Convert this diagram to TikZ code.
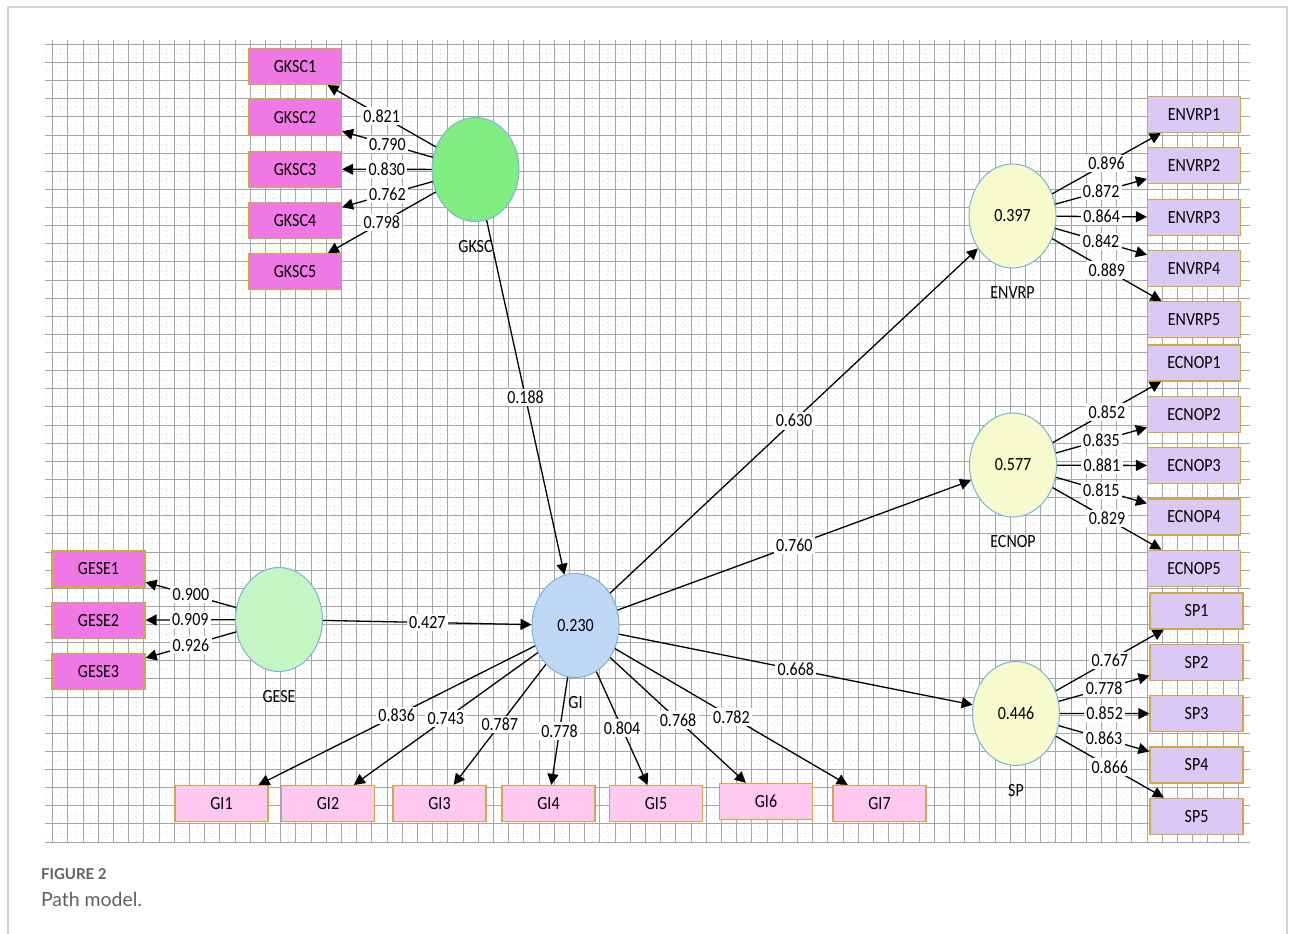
\documentclass[tikz,border=0pt]{standalone}
\usepackage{fontspec}
\setmainfont[FakeStretch=0.86]{Carlito}
\newfontfamily\capfont{Lato}
\usetikzlibrary{arrows.meta,positioning,shapes.geometric}

\definecolor{lvgreen}{RGB}{128,238,128}
\definecolor{lvpale}{RGB}{196,246,196}
\definecolor{lvblue}{RGB}{190,215,245}
\definecolor{lvyellow}{RGB}{246,250,204}
\definecolor{lvborder}{RGB}{120,180,215}
\definecolor{indmag}{RGB}{240,120,228}
\definecolor{indpink}{RGB}{255,200,240}
\definecolor{indlav}{RGB}{218,200,245}
\definecolor{indborder}{RGB}{205,170,70}
\definecolor{capgray}{RGB}{95,95,95}

\begin{document}
\begin{tikzpicture}[x=0.5pt,y=-0.5pt,>={Triangle[length=5.5pt,width=5.5pt]},
	node distance=25.65pt,
	every node/.style={font=\fontsize{9.3}{10}\selectfont},
	lv/.style={ellipse,draw=lvborder,line width=0.5pt,minimum width=43.5pt,minimum height=52pt,inner sep=0pt},
	lvname/.style={inner sep=0pt},
	ind/.style={rectangle,draw=indborder,line width=0.6pt,minimum width=46.5pt,minimum height=18pt,inner sep=0pt},
	lbl/.style={fill=white,inner sep=1.2pt},
	gridline/.style={gray!70,line width=0.45pt},
	minorline/.style={gray!25,line width=0.4pt,dotted}]
	\useasboundingbox (0,0) rectangle (1293,933);
	\draw[gray!35,line width=0.9pt] (8,7) rectangle (1287,960);

	% grid
	\foreach \i in {0,...,77}
		\draw[minorline] ({60.3+15.2*\i},44) -- ({60.3+15.2*\i},842);
	\foreach \j in {0,...,43}
		\draw[minorline] (46,{53.4+18.13*\j}) -- (1250,{53.4+18.13*\j});
	\foreach \i in {0,...,78}
		\draw[gridline] ({52.7+15.2*\i},40) -- ({52.7+15.2*\i},843);
	\foreach \j in {0,...,44}
		\draw[gridline] (45,{44.3+18.13*\j}) -- (1250,{44.3+18.13*\j});

	% latent variables
	\node[lv,fill=lvgreen] (GKSC) at (475.5,169.5) {};
	\node[lvname,below=9pt of GKSC] (GKSCt) {GKSC};
	\node[lv,fill=lvpale] (GESE) at (279,619.5) {};
	\node[lvname,below=9pt of GESE] (GESEt) {GESE};
	\node[lv,fill=lvblue] (GI) at (575.5,625.5) {0.230};
	\node[lvname,below=9pt of GI] (GIt) {GI};
	\node[lv,fill=lvyellow] (ENVRP) at (1012.5,216) {0.397};
	\node[lvname,below=9pt of ENVRP] (ENVRPt) {ENVRP};
	\node[lv,fill=lvyellow] (ECNOP) at (1013,465) {0.577};
	\node[lvname,below=9pt of ECNOP] (ECNOPt) {ECNOP};
	\node[lv,fill=lvyellow] (SP) at (1016,713.5) {0.446};
	\node[lvname,below=9pt of SP] (SPt) {SP};

	% indicators
	\node[ind,fill=indmag] (GKSC1) at (295,66.5) {GKSC1};
	\node[ind,fill=indmag] (GKSC2) [below of=GKSC1] {GKSC2};
	\node[ind,fill=indmag] (GKSC3) [below of=GKSC2] {GKSC3};
	\node[ind,fill=indmag] (GKSC4) [below of=GKSC3] {GKSC4};
	\node[ind,fill=indmag] (GKSC5) [below of=GKSC4] {GKSC5};

	\node[ind,fill=indmag] (GESE1) at (98.5,569) {GESE1};
	\node[ind,fill=indmag] (GESE2) [below of=GESE1] {GESE2};
	\node[ind,fill=indmag] (GESE3) [below of=GESE2] {GESE3};

	\node[ind,fill=indpink] (GI1) at (221.5,803.5) {GI1};
	\node[ind,fill=indpink] (GI2) at (328,803.5) {GI2};
	\node[ind,fill=indpink] (GI3) at (439.5,803.5) {GI3};
	\node[ind,fill=indpink] (GI4) at (548.5,803.5) {GI4};
	\node[ind,fill=indpink] (GI5) at (656,803.5) {GI5};
	\node[ind,fill=indpink] (GI6) at (766,801.5) {GI6};
	\node[ind,fill=indpink] (GI7) at (879.5,803.5) {GI7};

	\node[ind,fill=indlav] (ENVRP1) at (1194,114.5) {ENVRP1};
	\node[ind,fill=indlav] (ENVRP2) [below of=ENVRP1] {ENVRP2};
	\node[ind,fill=indlav] (ENVRP3) [below of=ENVRP2] {ENVRP3};
	\node[ind,fill=indlav] (ENVRP4) [below of=ENVRP3] {ENVRP4};
	\node[ind,fill=indlav] (ENVRP5) [below of=ENVRP4] {ENVRP5};

	\node[ind,fill=indlav] (ECNOP1) at (1194,363) {ECNOP1};
	\node[ind,fill=indlav] (ECNOP2) [below of=ECNOP1] {ECNOP2};
	\node[ind,fill=indlav] (ECNOP3) [below of=ECNOP2] {ECNOP3};
	\node[ind,fill=indlav] (ECNOP4) [below of=ECNOP3] {ECNOP4};
	\node[ind,fill=indlav] (ECNOP5) [below of=ECNOP4] {ECNOP5};

	\node[ind,fill=indlav] (SP1) at (1196.5,611) {SP1};
	\node[ind,fill=indlav] (SP2) [below of=SP1] {SP2};
	\node[ind,fill=indlav] (SP3) [below of=SP2] {SP3};
	\node[ind,fill=indlav] (SP4) [below of=SP3] {SP4};
	\node[ind,fill=indlav] (SP5) [below of=SP4] {SP5};

	\path[->,line width=0.65pt]
	(GKSC) edge node[lbl] {0.821} (GKSC1)
	(GKSC) edge node[lbl] {0.790} (GKSC2)
	(GKSC) edge node[lbl] {0.830} (GKSC3)
	(GKSC) edge node[lbl] {0.762} (GKSC4)
	(GKSC) edge node[lbl] {0.798} (GKSC5)

	(GESE) edge node[lbl] {0.900} (GESE1)
	(GESE) edge node[lbl] {0.909} (GESE2)
	(GESE) edge node[lbl] {0.926} (GESE3)

	(GI) edge node[lbl] {0.836} (GI1)
	(GI) edge node[lbl] {0.743} (GI2)
	(GI) edge node[lbl] {0.787} (GI3)
	(GI) edge node[lbl] {0.778} (GI4)
	(GI) edge node[lbl] {0.804} (GI5)
	(GI) edge node[lbl] {0.768} (GI6)
	(GI) edge node[lbl] {0.782} (GI7)

	(ENVRP) edge node[lbl] {0.896} (ENVRP1)
	(ENVRP) edge node[lbl] {0.872} (ENVRP2)
	(ENVRP) edge node[lbl] {0.864} (ENVRP3)
	(ENVRP) edge node[lbl] {0.842} (ENVRP4)
	(ENVRP) edge node[lbl] {0.889} (ENVRP5)

	(ECNOP) edge node[lbl] {0.852} (ECNOP1)
	(ECNOP) edge node[lbl] {0.835} (ECNOP2)
	(ECNOP) edge node[lbl] {0.881} (ECNOP3)
	(ECNOP) edge node[lbl] {0.815} (ECNOP4)
	(ECNOP) edge node[lbl] {0.829} (ECNOP5)

	(SP) edge node[lbl] {0.767} (SP1)
	(SP) edge node[lbl] {0.778} (SP2)
	(SP) edge node[lbl] {0.852} (SP3)
	(SP) edge node[lbl] {0.863} (SP4)
	(SP) edge node[lbl] {0.866} (SP5)

	(GKSC) edge node[lbl] {0.188} (GI)
	(GESE) edge node[lbl] {0.427} (GI)
	(GI) edge node[lbl] {0.630} (ENVRP)
	(GI) edge node[lbl] {0.760} (ECNOP)
	(GI) edge node[lbl] {0.668} (SP)
	;

	% caption
	\node[anchor=base west,inner sep=0pt,text=capgray,font=\capfont\bfseries\fontsize{7.5}{9}\selectfont] (fignum) at (40.7,879) {FIGURE 2};
	\node[anchor=base west,inner sep=0pt,text=capgray,font=\capfont\fontsize{9.7}{11}\selectfont] (figcap) at (40.7,906) {Path model.};
\end{tikzpicture}
\end{document}
